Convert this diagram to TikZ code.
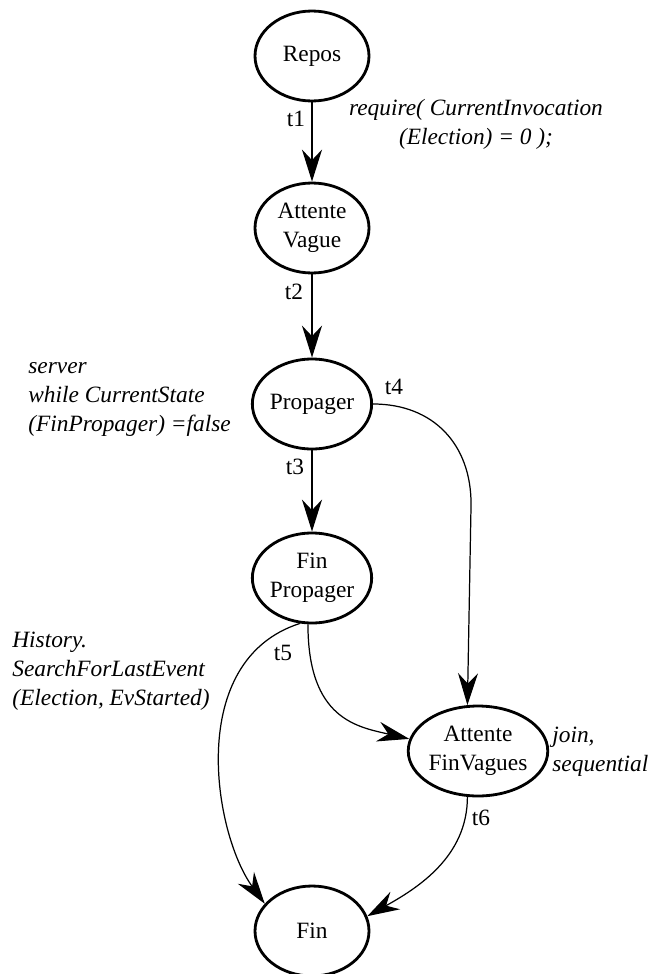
\documentclass[tikz,border=0pt]{standalone}
\usepackage{fontspec}
\setmainfont{Liberation Serif}
\usetikzlibrary{arrows.meta, shapes.geometric}

\begin{document}
\begin{tikzpicture}[
    x=0.02cm, y=-0.02cm,
    every node/.style={font=\fontsize{13.3}{16.5}\selectfont},
    state/.style={ellipse, draw, line width=1.6pt, minimum width=2.28cm, minimum height=1.8cm, inner sep=0pt, align=center},
    note/.style={font=\fontsize{13.3}{16.5}\selectfont\itshape, align=left, inner sep=0pt},
    lbl/.style={inner sep=0pt},
    arr/.style={-{Stealth[length=6.4mm, width=4mm, inset=2.1mm]}, line width=1.4pt},
    arrthin/.style={-{Stealth[length=6.4mm, width=4mm, inset=2.1mm]}, line width=0.7pt}
]
\useasboundingbox (0,0) rectangle (655,974);

\node[state] (repos) at (312,56) {Repos};
\node[state] (av) at (312,228) {Attente\\Vague};
\node[state] (prop) at (312,404) {Propager};
\node[state] (fp) at (312,578) {Fin\\Propager};
\node[state, minimum width=2.6cm] (afv) at (478,751) {Attente\\FinVagues};
\node[state] (fin) at (312,931) {Fin};

% straight transitions
\draw[arr] (repos) -- (av);
\draw[arr] (av) -- (prop);
\draw[arr] (prop) -- (fp);

% curved transitions
\draw[arrthin] (prop.east) .. controls +(60,0) and +(0,-60) .. ++(98,100) -- (afv.103);
\draw[arrthin] (fp.-105) .. controls +(-115,37) and +(-51,-70) .. (fin.150);
\draw[arrthin] (fp.-95) .. controls +(0,95) and +(-52,-12) .. (afv.170);
\draw[arrthin] (afv.-103) .. controls +(0,60) and +(50,-28) .. (fin.15);

\node[lbl] (l1) at (296,119) {t1};
\node[lbl] (l2) at (294,292) {t2};
\node[lbl] (l3) at (295,467) {t3};
\node[lbl] (l4) at (394,387) {t4};
\node[lbl] (l5) at (283,653) {t5};
\node[lbl] (l6) at (481,818) {t6};

% guards and annotations
\node[note, align=center] (req) at (476,124) {require( CurrentInvocation\\(Election) = 0 );};
\node[note, anchor=west] (srv) at (28,399) {server\\while CurrentState\\(FinPropager) =false};
\node[note, anchor=west] (hist) at (12,671) {History.\\SearchForLastEvent\\(Election, EvStarted)};
\node[note, anchor=west] (join) at (552,752) {join,\\sequential};

\end{tikzpicture}
\end{document}
